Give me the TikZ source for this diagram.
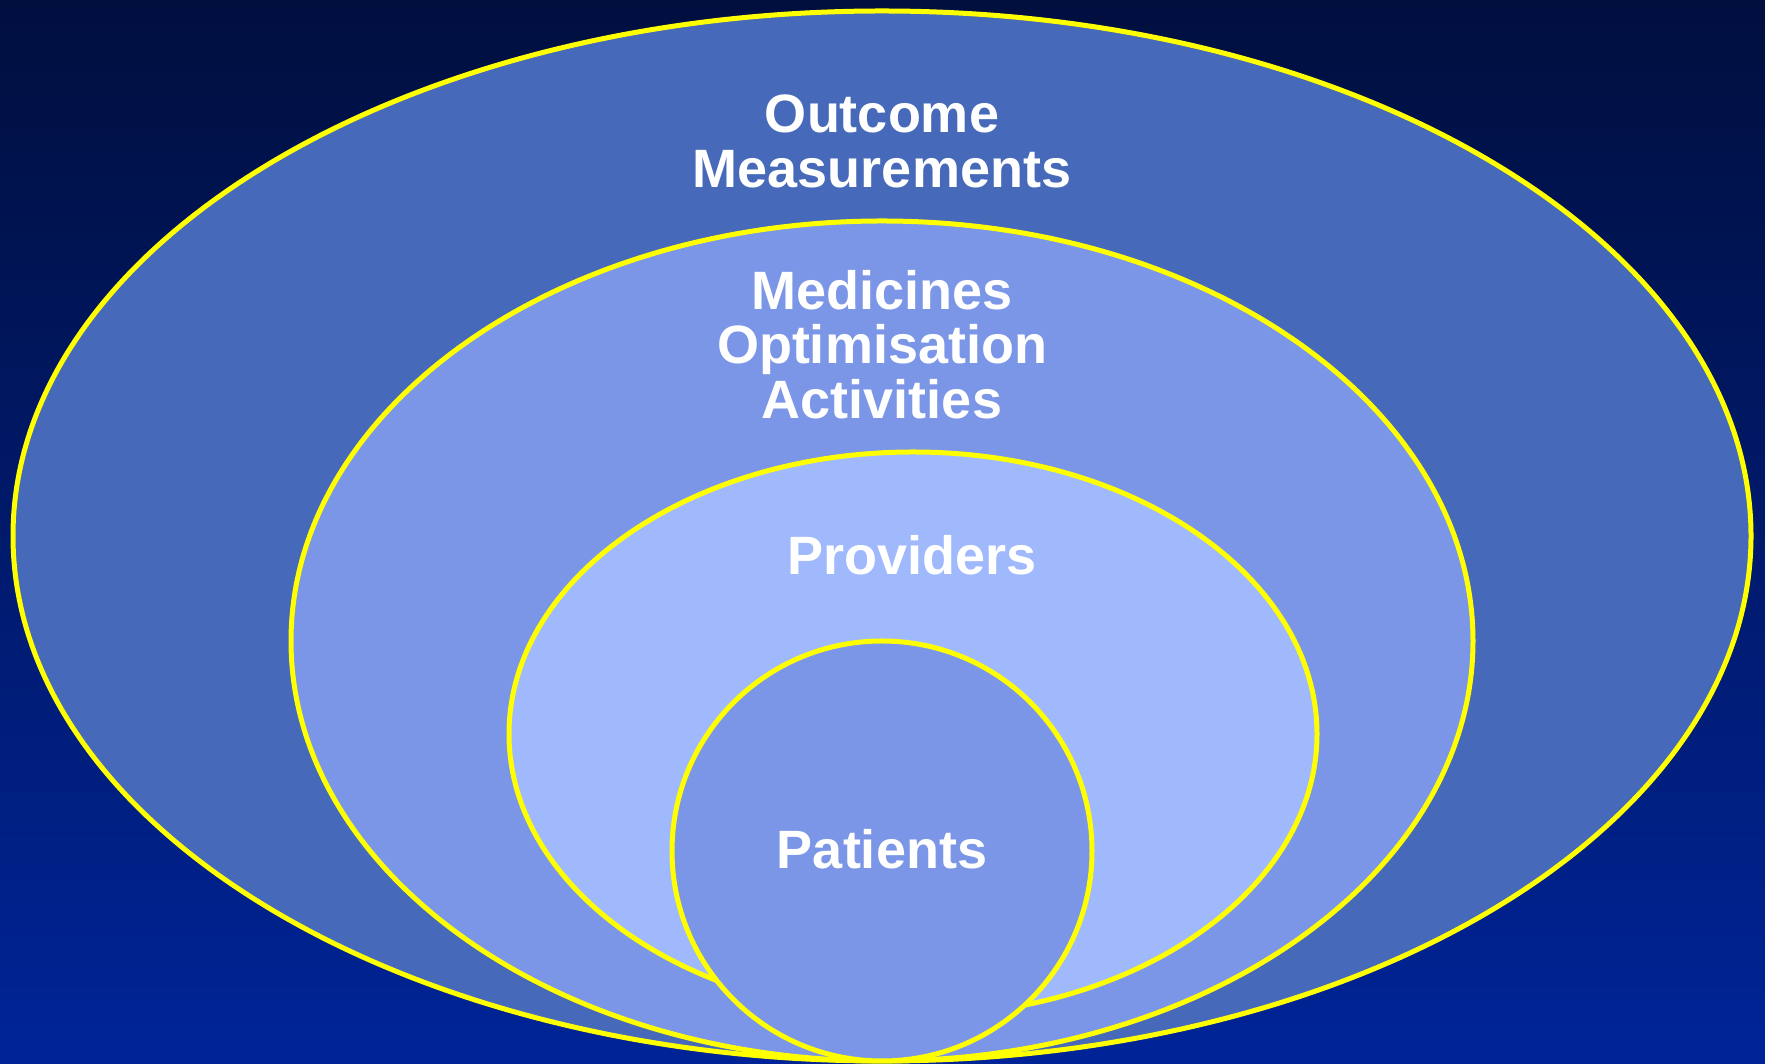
\documentclass[tikz,border=0pt]{standalone}
\usepackage{fontspec}
\setmainfont{Liberation Sans}
\definecolor{bgtop}{RGB}{0,15,62}
\definecolor{bgbot}{RGB}{0,36,152}
\definecolor{outerfill}{RGB}{70,105,185}
\definecolor{midfill}{RGB}{123,150,230}
\definecolor{innerfill}{RGB}{160,185,252}
\definecolor{rimyellow}{RGB}{255,255,0}
\begin{document}
\begin{tikzpicture}[x=1pt,y=1pt,
  ring/.style={draw=rimyellow,line width=5pt},
  lbl/.style={text=white,font=\bfseries\fontsize{54}{54}\selectfont,inner sep=0pt,anchor=base}]
\useasboundingbox (0,0) rectangle (1765,1064);
\shade[top color=bgtop,bottom color=bgbot] (0,0) rectangle (1765,1064);
% outer ellipse
\filldraw[ring,fill=outerfill] (882,528) ellipse [x radius=869,y radius=525];
% middle ellipse
\filldraw[ring,fill=midfill] (882,423) ellipse [x radius=591,y radius=420];
% inner ellipse
\filldraw[ring,fill=innerfill] (913,330) ellipse [x radius=404,y radius=282];
% patients circle
\filldraw[ring,fill=midfill] (882,213) circle [radius=210];
% labels
\node[lbl] (out1) at (882,{1064-133}) {Outcome};
\node[lbl] (out2) at (882,{1064-188}) {Measurements};
\node[lbl] (med1) at (882,{1064-310}) {Medicines};
\node[lbl] (med2) at (882,{1064-364}) {Optimisation};
\node[lbl] (med3) at (882,{1064-419}) {Activities};
\node[lbl] (prov) at (912,{1064-575}) {Providers};
\node[lbl] (pat)  at (882,{1064-869}) {Patients};
\end{tikzpicture}
\end{document}
